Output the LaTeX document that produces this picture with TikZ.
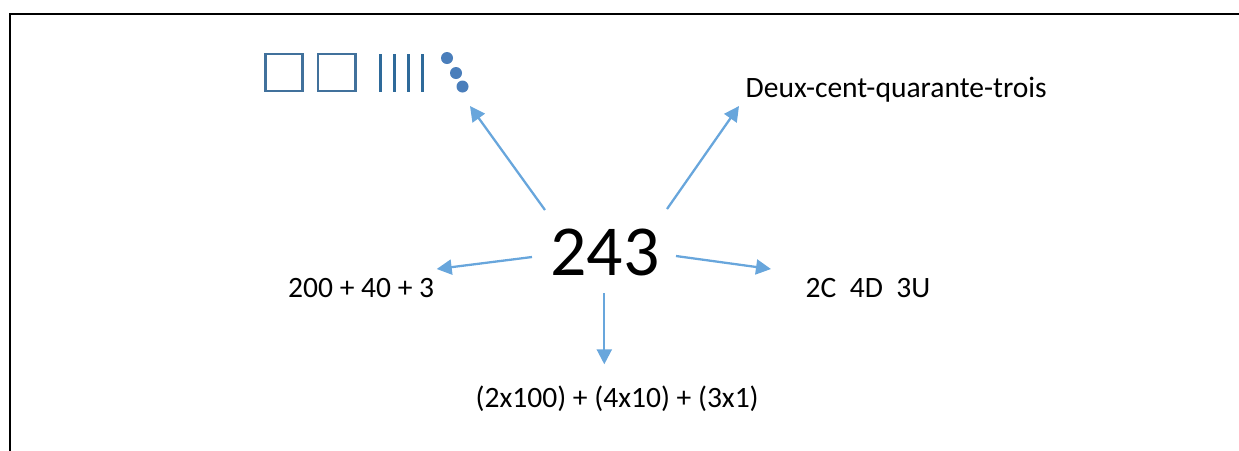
\documentclass[tikz,border=0pt]{standalone}
\usepackage{fontspec}
\setmainfont{Carlito}
\usepackage{xcolor}
\usetikzlibrary{arrows.meta, positioning}
\definecolor{arrowblue}{RGB}{104,166,220}
\definecolor{shapeblue}{RGB}{65,113,156}
\definecolor{tallyblue}{RGB}{46,106,154}
\definecolor{dotblue}{RGB}{74,126,187}

\begin{document}
\begin{tikzpicture}[x=0.01cm, y=-0.01cm,
        txt/.style={inner sep=0pt, anchor=base west, font=\fontsize{8.4pt}{10pt}\selectfont},
        arrow/.style={-{Triangle[length=0.15cm, width=0.15cm]}, arrowblue, line width=0.65pt},
        unit/.style={shapeblue, line width=0.75pt}
    ]
    \useasboundingbox (0,0) rectangle (1239,450);
    \draw[line width=0.57pt] (1250,14) -- (10,14) -- (10,460);

    \node[inner sep=0pt, anchor=base, font=\fontsize{20.4pt}{24pt}\selectfont] (N) at (605,275) {243};
    \node[txt] (W) at (745,97.5) {Deux-cent-quarante-trois};
    \node[txt] (S) at (287.5,297.3) {200 + 40 + 3};
    \node[txt] (U) at (805,297.3) {2C~~4D~~3U};
    \node[txt] (P) at (475,407.3) {(2x100) + (4x10) + (3x1)};

    % centaines, dizaines, unites
    \draw[unit] (265.5,54) rectangle (302.5,91);
    \draw[unit] (318,54) rectangle (355.5,91);
    \foreach \x in {380.5,394.5,408.5,422.5}
        \draw[tallyblue, line width=0.65pt] (\x,54) -- (\x,91.5);
    \foreach \x/\y in {447/58, 456/73, 462.5/86.5}
        \fill[dotblue] (\x,\y) circle (0.06cm);

    \coordinate (a1) at (545,210);  \coordinate (b1) at (470,106);
    \coordinate (a2) at (667,209);  \coordinate (b2) at (739,106);
    \coordinate (a3) at (532,257);  \coordinate (b3) at (436.7,269);
    \coordinate (a4) at (676,256);  \coordinate (b4) at (771,269);
    \coordinate (a5) at (604.3,293); \coordinate (b5) at (604.3,364.3);

    \draw[arrow] (a1) -- (b1);
    \draw[arrow] (a2) -- (b2);
    \draw[arrow] (a3) -- (b3);
    \draw[arrow] (a4) -- (b4);
    \draw[arrow] (a5) -- (b5);
\end{tikzpicture}
\end{document}
